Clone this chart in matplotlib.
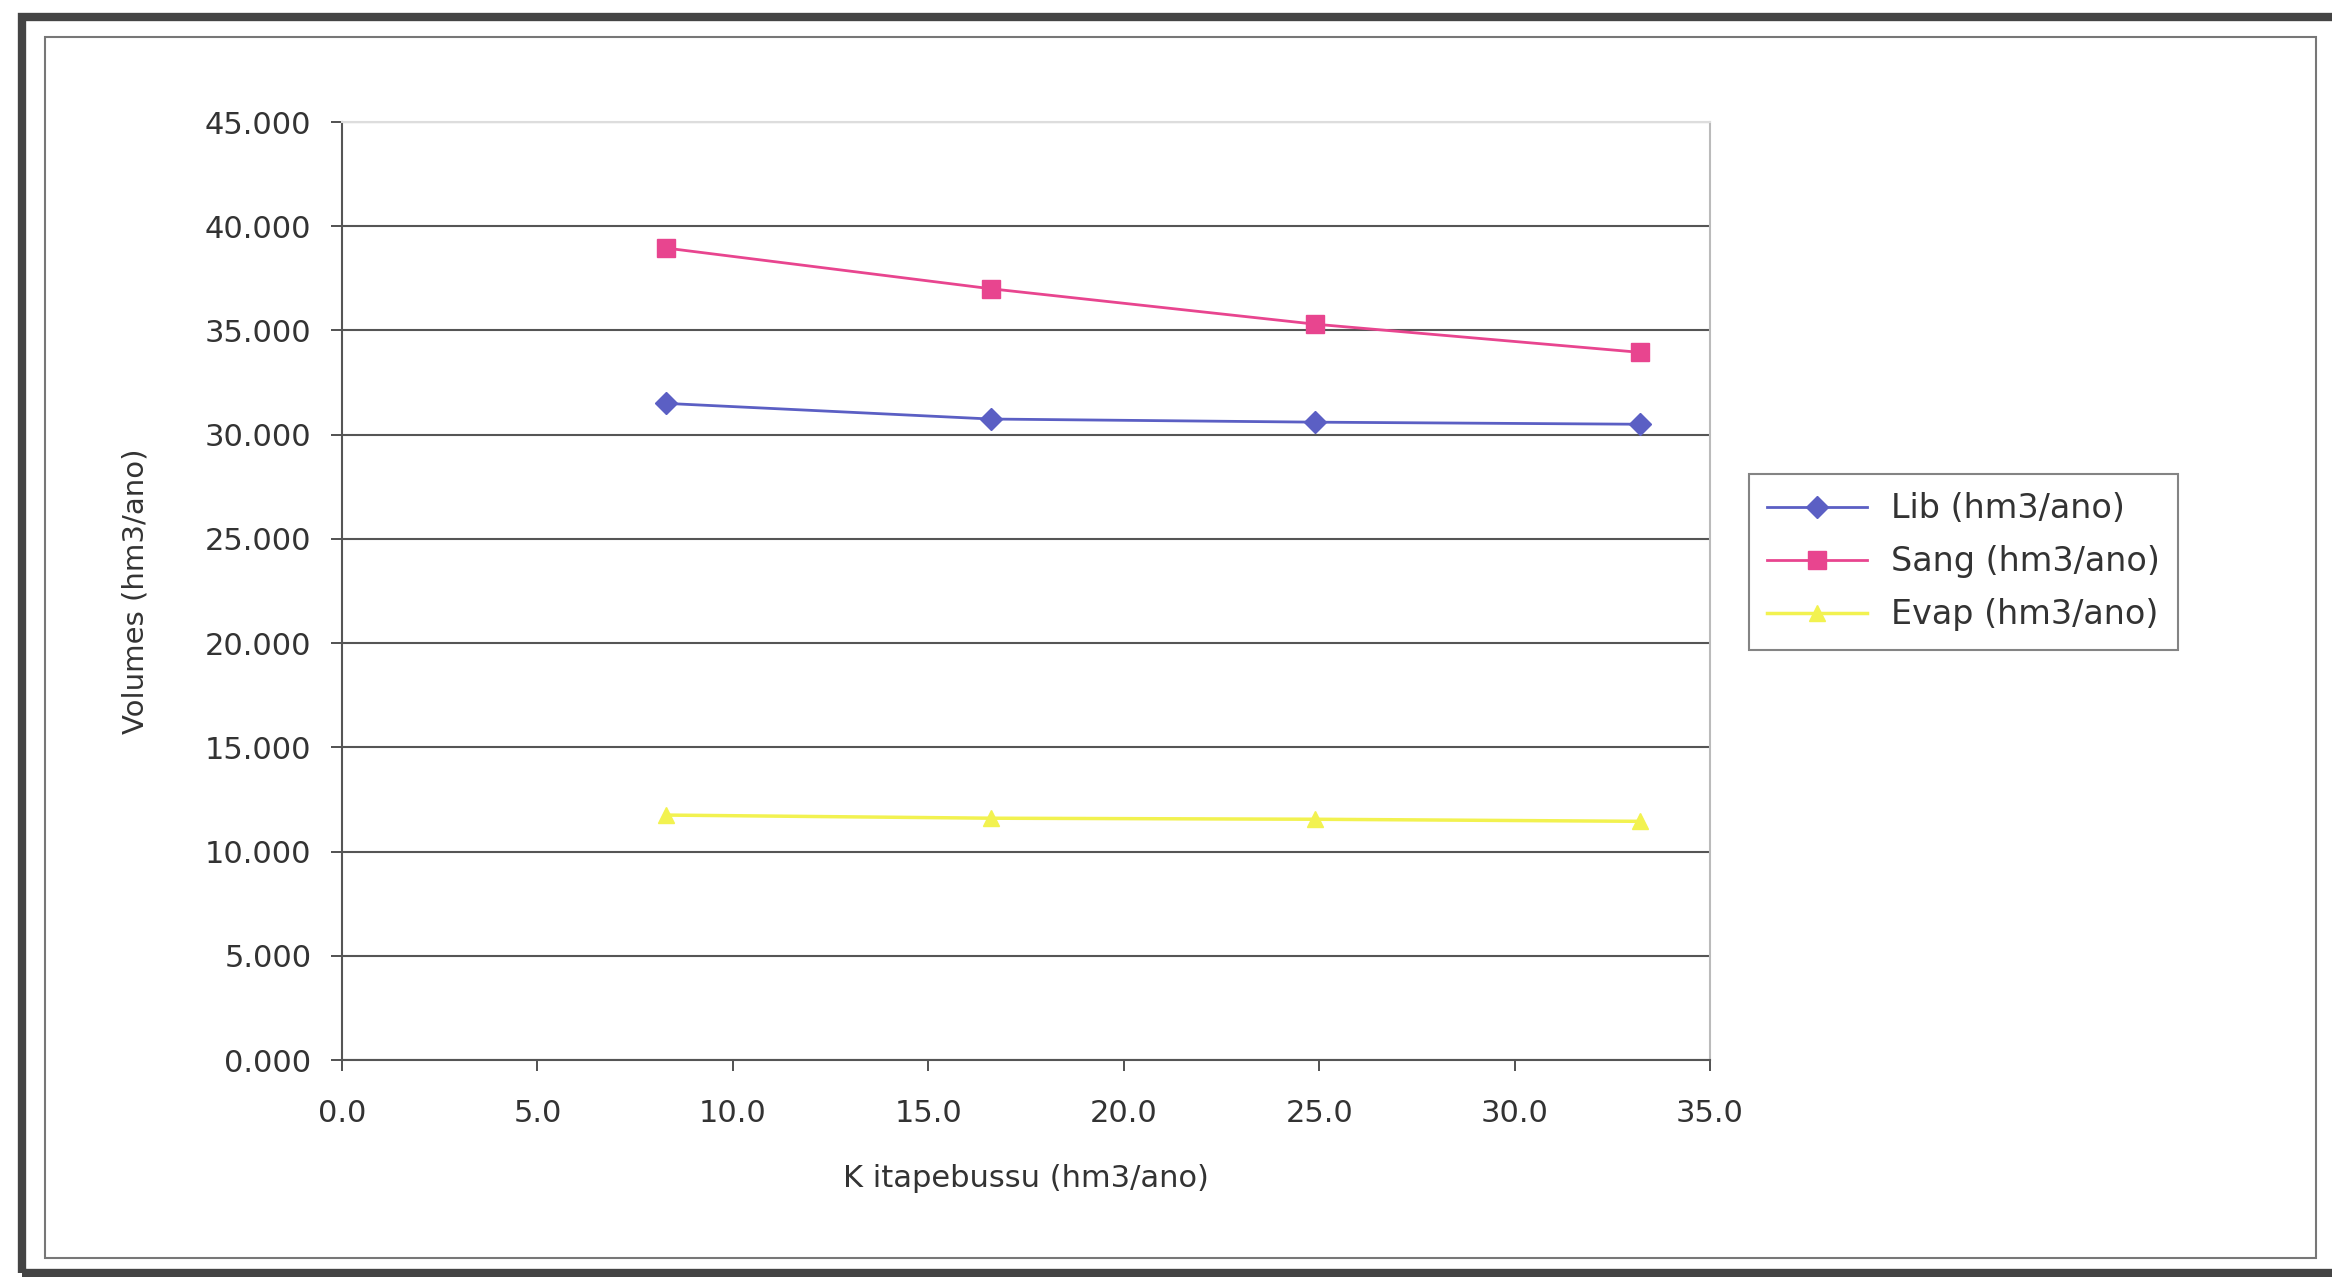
import matplotlib.pyplot as plt
from matplotlib.patches import Rectangle
from matplotlib.ticker import FuncFormatter

# data
k_itapebussu = [8.3, 16.6, 24.9, 33.2]
lib = [31.5, 30.75, 30.6, 30.5]
sang = [38.95, 37.0, 35.3, 33.95]
evap = [11.75, 11.6, 11.55, 11.45]

series_names = ["Lib (hm3/ano)", "Sang (hm3/ano)", "Evap (hm3/ano)"]
y_ticks = [0, 5, 10, 15, 20, 25, 30, 35, 40, 45]
x_ticks = [0, 5, 10, 15, 20, 25, 30, 35]

W, H = 2332, 1277
fig = plt.figure(figsize=(W / 100, H / 100), dpi=100)
plt.rcParams['font.family'] = ['DejaVu Sans']

# page frames (outer thick, inner thin)
fig.patches.append(Rectangle((22 / W, 1 - 1273 / H), 1.2, (1273 - 17) / H,
                             transform=fig.transFigure, fill=False,
                             edgecolor='#444444', linewidth=6))
fig.patches.append(Rectangle((45 / W, 1 - 1258 / H), (2316 - 45) / W, (1258 - 37) / H,
                             transform=fig.transFigure, fill=False,
                             edgecolor='#777777', linewidth=1.5))

left, right, top, bottom = 342, 1710, 122, 1060
ax = fig.add_axes([left / W, 1 - bottom / H, (right - left) / W, (bottom - top) / H])

ax.plot(k_itapebussu, lib, color='#5b5fc4', marker='D', markersize=11,
        linewidth=2, label=series_names[0])
ax.plot(k_itapebussu, sang, color='#e8458f', marker='s', markersize=13,
        linewidth=2, label=series_names[1])
ax.plot(k_itapebussu, evap, color='#f2f250', marker='^', markersize=12,
        linewidth=2.5, label=series_names[2])

ax.set_xlim(0, 35)
ax.set_ylim(0, 45)
ax.set_xticks(x_ticks)
ax.set_yticks(y_ticks)
ax.xaxis.set_major_formatter(FuncFormatter(lambda v, p: "%.1f" % v))
ax.yaxis.set_major_formatter(FuncFormatter(lambda v, p: "%.3f" % v))
ax.tick_params(labelsize=22, colors='#333333', length=8, width=1.2, direction='out')
ax.tick_params(axis='y', pad=14)
ax.tick_params(axis='x', pad=20)

ax.grid(axis='y', color='#555555', linewidth=1.5)
ax.set_axisbelow(True)
ax.spines['top'].set_color('#dddddd')
ax.spines['right'].set_color('#bbbbbb')
ax.spines['left'].set_color('#555555')
ax.spines['bottom'].set_color('#555555')
for s in ax.spines.values():
    s.set_linewidth(1.5)

ax.set_xlabel("K itapebussu (hm3/ano)", fontsize=22, color='#333333', labelpad=26)
ax.set_ylabel("Volumes (hm3/ano)", fontsize=21, color='#333333', labelpad=40)

leg = ax.legend(loc='upper left', bbox_to_anchor=(1749 / W, 1 - 474 / H),
                bbox_transform=fig.transFigure, fontsize=24, frameon=True,
                fancybox=False, edgecolor='#666666', handlelength=3.0,
                borderpad=0.55, labelspacing=0.6, handletextpad=0.7,
                borderaxespad=0)
leg.get_frame().set_linewidth(1.5)
for t in leg.get_texts():
    t.set_color('#333333')

fig.savefig("out.png", dpi=100, facecolor='white')
